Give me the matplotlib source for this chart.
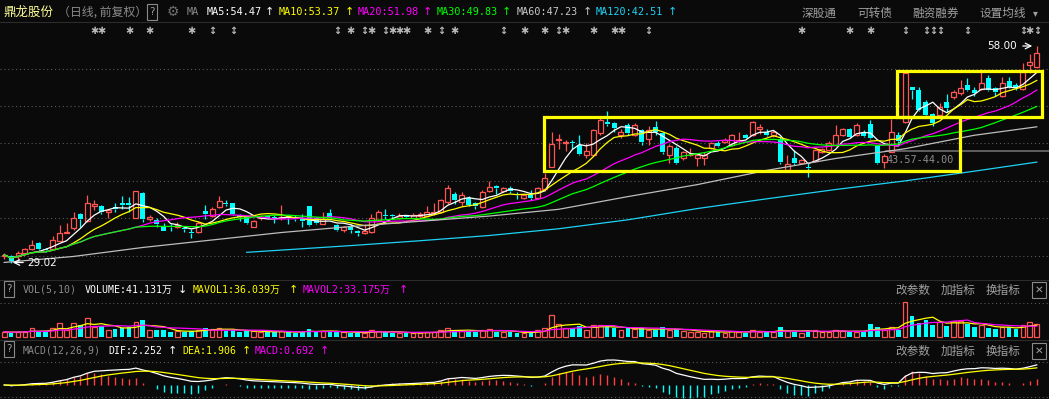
import numpy as np
import pandas as pd
import matplotlib
matplotlib.use('Agg')
import matplotlib.pyplot as plt
from matplotlib.patches import Rectangle

W, H = 1049, 399
BG = '#0a0a0a'
RED = '#ff5454'
CYAN = '#00ffff'
GRID = '#5a5a5a'
MONO = ['DejaVu Sans Mono', 'Noto Sans CJK SC']
CJK = ['Noto Sans CJK SC', 'DejaVu Sans']

# 日K 数据 (从图上读出, 前复权)
opens = [29.9, 29.9, 29.9, 30.3, 30.9, 31.7, 30.9, 30.9, 32.0, 33.1,
         33.7, 35.6, 34.6, 36.6, 36.6, 35.8, 36.5, 37.0, 37.1, 35.0,
         38.4, 34.9, 34.8, 34.0, 34.0, 33.8, 33.7, 33.2, 33.2, 36.0,
         35.3, 36.55, 37.1, 37.0, 35.4, 35.2, 33.9, 35.0, 35.3, 35.2,
         35.0, 35.3, 35.0, 34.9, 36.6, 35.0, 34.3, 35.7, 34.1, 33.4,
         34.0, 33.3, 33.1, 33.2, 34.8, 35.5, 35.5, 35.1, 35.4, 35.1,
         35.3, 35.3, 35.7, 35.9, 37.2, 38.3, 37.2, 37.7, 37.0, 36.5,
         38.6, 39.3, 38.7, 39.0, 38.3, 37.7, 38.1, 37.7, 38.9, 41.9,
         45.5, 45.0, 45.2, 44.8, 43.4, 43.4, 46.4, 47.9, 47.8, 46.2,
         47.5, 46.1, 46.8, 45.6, 47.2, 46.4, 43.4, 44.35, 43.0, 43.4,
         43.1, 43.1, 44.4, 45.0, 45.2, 44.8, 45.3, 46.1, 46.1, 47.0,
         46.6, 46.1, 45.6, 41.5, 43.0, 42.35, 41.9, 42.6, 43.9, 44.1,
         44.8, 46.2, 46.9, 46.2, 46.6, 47.6, 44.6, 42.5, 43.9, 46.2,
         47.9, 52.5, 52.2, 50.6, 49.0, 48.8, 50.6, 51.25, 51.7, 52.8,
         52.15, 52.3, 53.7, 52.4, 51.35, 53.35, 52.8, 52.3, 55.5, 55.25]
highs = [30.3, 30.1, 30.6, 31.0, 32.1, 31.8, 31.0, 32.6, 34.1, 34.4,
         35.9, 35.7, 38.1, 37.4, 36.8, 36.3, 37.0, 38.0, 37.8, 38.7,
         38.5, 35.4, 35.1, 34.4, 34.3, 34.5, 33.9, 33.6, 34.6, 36.8,
         36.5, 38.0, 37.4, 37.1, 35.6, 35.3, 34.8, 35.4, 35.4, 35.5,
         36.8, 35.5, 35.5, 35.6, 36.7, 35.2, 35.9, 36.2, 34.3, 34.0,
         34.2, 33.5, 34.2, 35.6, 36.1, 36.3, 35.6, 35.7, 35.5, 35.7,
         35.8, 36.6, 37.0, 37.6, 39.4, 38.5, 38.5, 38.0, 37.2, 38.8,
         40.0, 39.4, 39.2, 39.3, 38.5, 38.3, 38.8, 39.2, 41.0, 46.5,
         46.3, 45.4, 45.5, 46.2, 45.0, 47.0, 48.4, 49.3, 47.9, 47.0,
         47.7, 47.7, 47.0, 47.4, 48.0, 46.6, 44.9, 44.6, 44.0, 44.4,
         43.7, 43.9, 45.2, 45.3, 45.8, 46.3, 46.6, 46.3, 48.0, 47.6,
         47.0, 46.8, 46.0, 43.4, 44.1, 42.9, 42.4, 44.3, 44.4, 45.3,
         47.5, 47.1, 47.1, 47.7, 46.8, 48.2, 44.7, 43.6, 48.3, 46.5,
         54.5, 52.6, 52.6, 50.8, 49.1, 50.4, 51.6, 52.2, 53.5, 53.7,
         52.6, 55.0, 54.2, 52.6, 53.9, 53.9, 53.1, 55.8, 57.0, 58.0]
lows = [29.6, 29.02, 29.3, 30.1, 30.7, 30.8, 30.5, 30.8, 31.9, 33.0,
        33.4, 33.8, 34.5, 36.1, 35.6, 35.1, 35.9, 36.2, 35.9, 35.0,
        34.5, 34.6, 33.8, 33.3, 33.3, 33.7, 33.2, 32.4, 33.1, 34.9,
        35.2, 36.4, 36.6, 35.5, 34.6, 34.3, 33.8, 34.8, 34.9, 34.4,
        34.8, 34.2, 34.6, 33.9, 34.0, 34.2, 34.2, 35.1, 33.3, 33.2,
        33.0, 32.6, 32.9, 33.1, 34.6, 34.9, 35.0, 34.9, 35.0, 35.0,
        35.1, 35.2, 35.5, 35.7, 36.9, 36.9, 36.6, 36.7, 36.3, 36.4,
        38.5, 38.3, 38.5, 38.4, 37.6, 37.6, 37.5, 37.6, 38.7, 41.8,
        44.3, 44.0, 44.2, 43.5, 43.1, 43.3, 46.2, 47.4, 46.5, 45.7,
        46.1, 46.0, 44.8, 44.8, 46.2, 43.6, 42.4, 42.2, 42.8, 43.3,
        42.0, 42.1, 44.2, 44.5, 45.0, 44.7, 44.9, 45.6, 46.0, 46.3,
        46.0, 45.9, 42.3, 41.3, 42.1, 42.2, 40.5, 42.5, 43.7, 44.0,
        44.7, 46.0, 45.7, 46.0, 45.9, 45.6, 42.2, 41.7, 43.8, 44.9,
        47.8, 50.9, 49.3, 48.5, 47.3, 48.5, 49.2, 51.0, 51.5, 52.0,
        51.4, 52.1, 52.0, 51.3, 51.2, 52.4, 52.1, 52.2, 54.4, 55.1]
closes = [30.1, 29.3, 30.3, 30.9, 31.4, 30.9, 30.8, 32.1, 33.0, 33.2,
          35.1, 34.9, 37.0, 36.9, 35.8, 36.1, 36.3, 36.8, 36.8, 38.65,
          34.9, 35.2, 34.2, 33.35, 33.85, 34.1, 33.6, 33.0, 34.4, 35.6,
          36.3, 37.3, 36.9, 35.6, 35.2, 34.4, 34.7, 35.2, 35.1, 35.1,
          35.2, 35.1, 34.9, 34.7, 34.1, 34.4, 34.9, 35.1, 33.4, 33.9,
          33.4, 33.1, 33.3, 35.0, 35.8, 35.3, 35.3, 35.3, 35.2, 35.4,
          35.6, 35.9, 35.8, 37.4, 39.0, 37.5, 38.1, 36.8, 36.6, 38.55,
          39.2, 39.1, 39.0, 38.6, 38.1, 38.1, 37.7, 39.1, 40.35, 44.9,
          45.6, 45.2, 45.0, 43.6, 44.0, 46.8, 48.2, 47.6, 47.1, 46.5,
          46.4, 47.5, 45.2, 46.8, 46.6, 43.8, 44.7, 42.35, 43.9, 43.5,
          43.5, 43.4, 45.0, 44.6, 45.4, 46.1, 45.4, 45.8, 47.9, 47.25,
          46.2, 46.6, 42.5, 42.2, 42.4, 42.8, 41.7, 44.1, 44.2, 45.1,
          46.1, 46.9, 45.9, 47.5, 46.0, 45.7, 42.35, 43.3, 46.6, 45.3,
          54.4, 52.2, 49.5, 48.8, 47.7, 49.9, 49.7, 51.9, 52.4, 52.15,
          51.7, 53.05, 52.15, 51.9, 53.05, 52.6, 52.4, 54.5, 55.9, 57.05]
# 成交量 (万手)
volumes = [15.8, 12.6, 15.8, 15.8, 26, 15.8, 15.8, 28, 44, 21,
           44, 37, 60, 31, 34, 22, 25, 27, 30, 45,
           52, 22, 20, 20, 15, 18, 15, 18, 22, 28,
           24, 26, 18, 22, 16, 17, 17, 15, 14, 15,
           18, 14, 13, 16, 25, 14, 19, 15, 14, 14,
           13, 12, 13, 20, 19, 14, 12, 12, 11, 12,
           13, 15, 15, 21, 27, 20, 18, 17, 15, 22,
           25, 16, 14, 14, 13, 12, 13, 20, 26, 70,
           40, 28, 27, 33, 22, 36, 38, 30, 28, 20,
           26, 24, 27, 22, 20, 30, 22, 25, 17, 14,
           15, 13, 18, 15, 13, 18, 15, 13, 22, 16,
           14, 14, 30, 18, 16, 12, 18, 20, 14, 16,
           22, 17, 15.8, 15.8, 15.8, 40, 29.5, 21, 29.5, 21,
           109.5, 65, 44, 52.6, 37, 47, 33.7, 49.5, 49.5, 39,
           30.6, 37, 28.4, 24, 31.6, 29.5, 25.5, 38, 46, 41.131]

# MA60 / MA120 读图点 (K线序号, 价格)
ma60_idx = [0, 10, 20, 30, 40, 50, 60, 70, 80, 90, 100, 110, 120, 130, 140, 149]
ma60_val = [29.1, 29.9, 31.1, 32.1, 33.1, 33.9, 34.6, 35.3, 36.2, 37.9, 39.5, 41.4, 43.0, 44.3, 46.1, 47.23]
ma120_idx = [35, 40, 50, 60, 70, 80, 90, 100, 110, 120, 130, 140, 149]
ma120_val = [30.45, 30.75, 31.35, 32.0, 32.7, 33.6, 34.8, 36.3, 37.6, 38.85, 40.0, 41.3, 42.51]

# 信息地雷
mine_idx = [13, 14, 18, 21, 27, 30, 33, 48, 50, 52, 53, 55, 56, 57, 58, 61, 63, 65, 72, 75,
            78, 80, 81, 85, 88, 89, 93, 115, 122, 125, 130, 133, 134, 135, 139, 147, 148, 149]
mine_kind = ['*', '*', '*', '*', '*', 'v', 'v', 'v', '*', 'v', '*', 'v', '*', '*', '*', '*', 'v', '*', 'v', '*',
             '*', 'v', '*', '*', '*', '*', 'v', '*', '*', '*', 'v', 'v', 'v', 'v', 'v', 'v', '*', 'v']

X0, DX = 4.2, 6.93   # 第一根K线像素位置, K线间距

o, h, l, c = (np.array(a, dtype=float) for a in (opens, highs, lows, closes))
v = np.array(volumes, dtype=float)
x = np.arange(len(c))
up = c >= o
cols = np.where(up, RED, CYAN)

fig = plt.figure(figsize=(W / 100, H / 100), dpi=100)
fig.patch.set_facecolor(BG)


def panel(y0, y1):
    ax = fig.add_axes([0, 1 - y1 / H, 1, (y1 - y0) / H])
    ax.set_xlim(-X0 / DX, (W - X0) / DX)
    ax.axis('off')
    return ax


def dotted(ax, val):
    ax.axhline(val, color=GRID, lw=0.8, ls=(0, (1, 2.5)), zorder=0)


def label(px, py, s, color, size=7.3, family=MONO, ha='left'):
    fig.text(px / W, 1 - py / H, s, color=color, fontsize=size, family=family,
             ha=ha, va='center')


def qbox(px, py, s='?'):
    fig.text(px / W, 1 - py / H, s, color='#a0a0a0', fontsize=7.5, family='DejaVu Sans',
             ha='center', va='center',
             bbox=dict(boxstyle='square,pad=0.25', fc='none', ec='#8a8a8a', lw=0.8))


def hline(py, color='#2c2c2c'):
    fig.add_artist(plt.Line2D([0, 1], [1 - py / H, 1 - py / H], color=color, lw=0.8))


# ---------- 主图 ----------
ax = panel(22, 279)
ax.set_ylim(26.885, 61.24)
for g in [30, 35, 40, 45, 50, 55]:
    dotted(ax, g)

top = np.maximum(o, c)
bot = np.minimum(o, c)
ax.vlines(x, top, h, colors=cols, lw=0.9, zorder=2)
ax.vlines(x, l, bot, colors=cols, lw=0.9, zorder=2)
body = np.maximum(top - bot, 0.08)
ax.bar(x[up], body[up], bottom=bot[up], width=0.72, facecolor='none', edgecolor=RED, lw=0.9, zorder=2)
ax.bar(x[~up], body[~up], bottom=bot[~up], width=0.72, color=CYAN, lw=0, zorder=2)

cs = pd.Series(c)
for n, col in [(5, 'white'), (10, '#ffff00'), (20, '#ff00ff'), (30, '#00ff00')]:
    ax.plot(x, cs.rolling(n, min_periods=1).mean(), color=col, lw=0.9, zorder=3)
ax.plot(ma60_idx, ma60_val, color='#bdbdbd', lw=0.9, zorder=3)
ax.plot(ma120_idx, ma120_val, color='#1ed2f5', lw=0.9, zorder=3)

# 支撑区
ax.add_patch(Rectangle((127.1, 43.8), 30, 0.3, color='#5c5c5c', lw=0, zorder=1))
ax.text(127.25, 42.8, '43.57-44.00', color='#8c8c8c', fontsize=7.3, family='DejaVu Sans Mono',
        va='center', zorder=4)

# 黄色方框
for (xa, xb, ya, yb) in [(77.9, 137.9, 41.32, 48.5), (128.8, 149.8, 48.58, 54.69)]:
    ax.add_patch(Rectangle((xa, ya), xb - xa, yb - ya, fill=False, ec='#ffff00', lw=2.3, zorder=5))

# 最高最低标注
ax.annotate('', xy=(1035, H - 46), xytext=(1020, H - 46), xycoords='figure pixels',
            arrowprops=dict(arrowstyle='->', color='white', lw=0.9))
label(1017, 46, '58.00', 'white', 7.5, 'DejaVu Sans', ha='right')
ax.annotate('', xy=(10, H - 262.5), xytext=(26, H - 262.5), xycoords='figure pixels',
            arrowprops=dict(arrowstyle='->', color='white', lw=0.9))
label(27, 262.5, '29.02', 'white', 7.5, 'DejaVu Sans')

for i, k in zip(mine_idx, mine_kind):
    ax.text(i, 60.0, '✱' if k == '*' else '↕', color='#b8b8b8', fontsize=7,
            family='DejaVu Sans', ha='center', va='center', fontweight='bold')

# ---------- 成交量 ----------
axv = panel(281, 339)
axv.set_ylim(-7.3, 176)
dotted(axv, 107.4)
axv.bar(x[up], v[up], width=0.68, facecolor='none', edgecolor=RED, lw=0.9)
axv.bar(x[~up], v[~up], width=0.68, color=CYAN, lw=0)
vs = pd.Series(v)
axv.plot(x, vs.rolling(5, min_periods=1).mean(), color='#ffff00', lw=0.9)
axv.plot(x, vs.rolling(10, min_periods=1).mean(), color='#ff00ff', lw=0.9)

# ---------- MACD ----------
axm = panel(341, 399)
axm.set_ylim(-1.54, 4.84)
dotted(axm, 2.53)
dotted(axm, -1.35)
dif = cs.ewm(span=12, adjust=False).mean() - cs.ewm(span=26, adjust=False).mean()
dea = dif.ewm(span=9, adjust=False).mean()
macd = 2 * (dif - dea)
axm.vlines(x, 0, macd, colors=np.where(macd >= 0, '#ff4040', CYAN), lw=1)
axm.plot(x, dif, color='white', lw=0.9)
axm.plot(x, dea, color='#ffff00', lw=0.9)

# ---------- 文字 ----------
hline(21.7)
hline(279.5)
hline(339.5)
label(3, 12, '鼎龙股份', '#ffff99', 9, CJK)
label(58, 12, '（日线, 前复权）', '#8a8a8a', 8.6, CJK)
qbox(152, 12)
label(173, 12, '⚙', '#707070', 10, 'DejaVu Sans', ha='center')
label(187, 12, 'MA', '#8a8a8a')
for px, s, col, ax_ in [(207, 'MA5:54.47', 'white', 269), (279, 'MA10:53.37', '#ffff00', 349),
                        (358, 'MA20:51.98', '#ff00ff', 427), (437, 'MA30:49.83', '#00ff00', 506),
                        (517, 'MA60:47.23', '#c8c8c8', 587), (596, 'MA120:42.51', '#1ed2f5', 672)]:
    label(px, 12, s, col)
    label(ax_, 12, '↑', col, 8, 'DejaVu Sans', ha='center')
for px, s in [(802, '深股通'), (857, '可转债'), (912, '融资融券'), (980, '设置均线')]:
    label(px, 13, s, '#a0a0a0', 8.4, CJK)
label(1035, 13, '▾', '#a0a0a0', 7, 'DejaVu Sans', ha='center')

qbox(9, 289)
label(23, 290, 'VOL(5,10)', '#8a8a8a', 7.1)
label(85, 290, 'VOLUME:41.131万', 'white', 7.1)
label(182, 290, '↓', 'white', 8, 'DejaVu Sans', ha='center')
label(193, 290, 'MAVOL1:36.039万', '#ffff00', 7.1)
label(293, 290, '↑', '#ffff00', 8, 'DejaVu Sans', ha='center')
label(303, 290, 'MAVOL2:33.175万', '#ff00ff', 7.1)
label(403, 290, '↑', '#ff00ff', 8, 'DejaVu Sans', ha='center')

qbox(9, 349)
label(23, 350.5, 'MACD(12,26,9)', '#8a8a8a', 7.1)
label(108, 350.5, 'DIF:2.252', 'white', 7.1)
label(172, 350.5, '↑', 'white', 8, 'DejaVu Sans', ha='center')
label(182, 350.5, 'DEA:1.906', '#ffff00', 7.1)
label(246, 350.5, '↑', '#ffff00', 8, 'DejaVu Sans', ha='center')
label(255, 350.5, 'MACD:0.692', '#ff00ff', 7.1)
label(324, 350.5, '↑', '#ff00ff', 8, 'DejaVu Sans', ha='center')

for py in (290.5, 351.5):
    for px, s in [(895, '改参数'), (941, '加指标'), (986, '换指标')]:
        label(px, py, s, '#a0a0a0', 8.4, CJK)
    qbox(1039, py - 0.5, '✕')

fig.savefig('out.png', dpi=100, facecolor=BG)
